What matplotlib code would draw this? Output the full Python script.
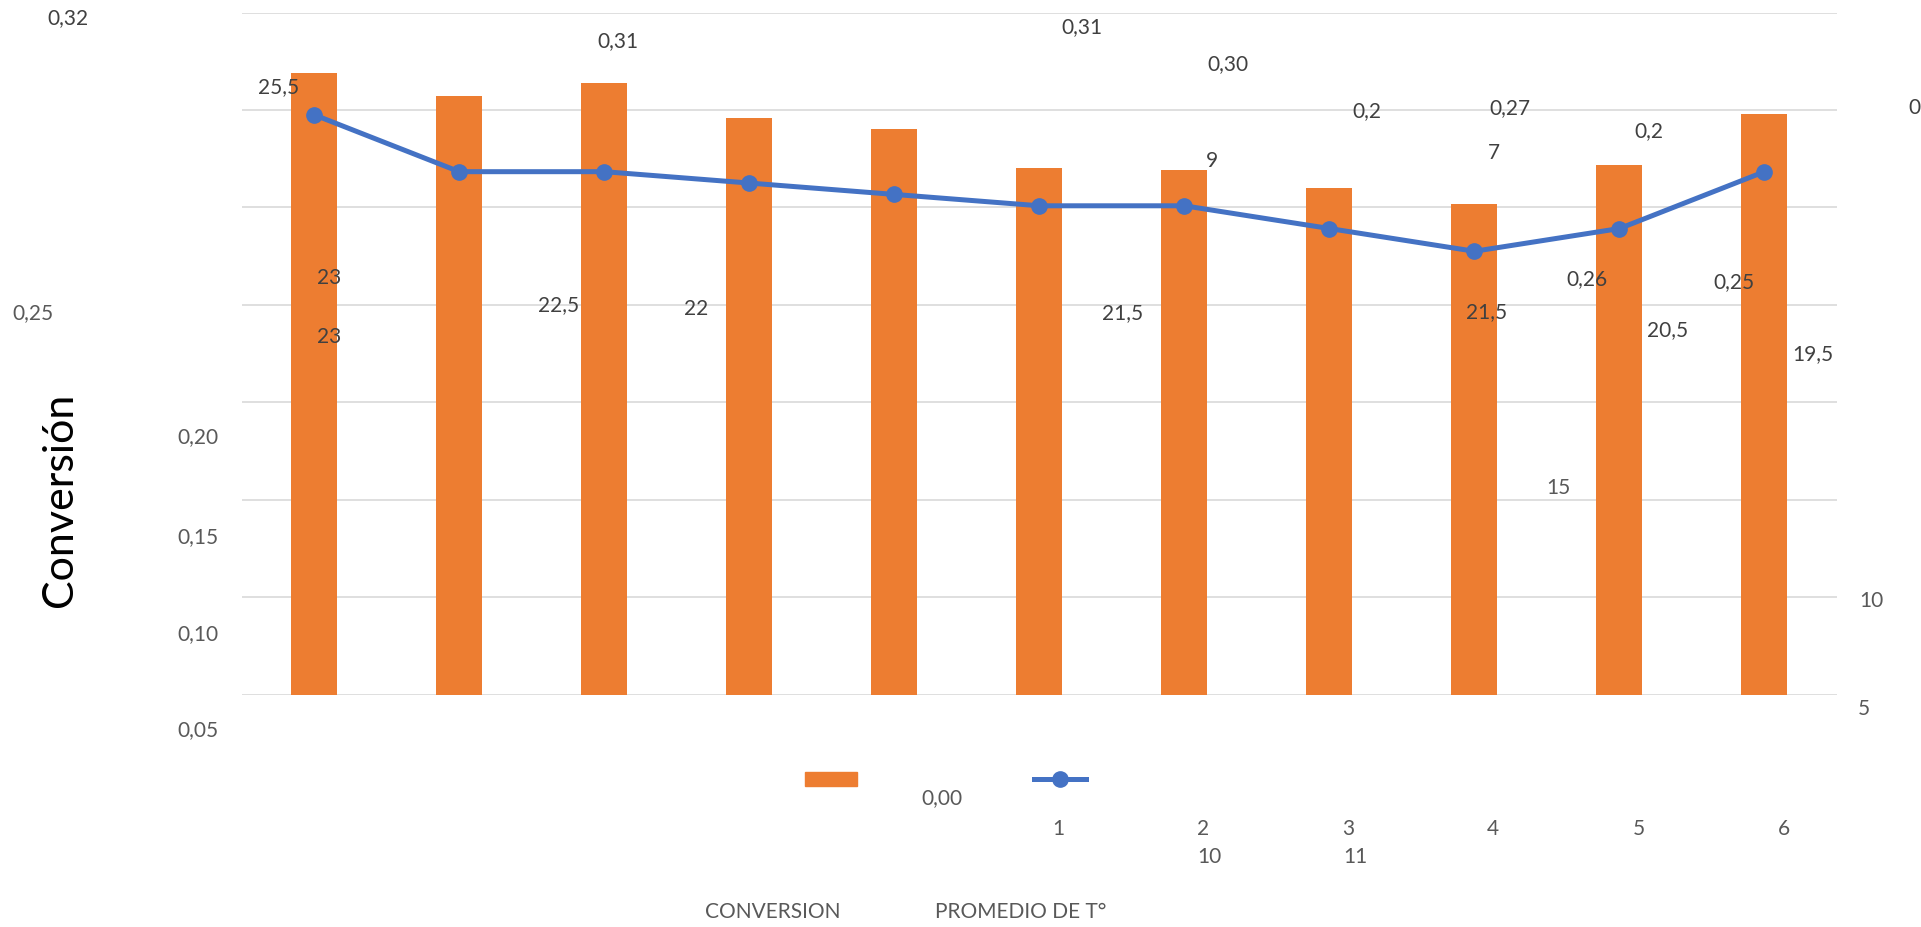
import matplotlib
matplotlib.use("Agg")
import matplotlib.pyplot as plt
from matplotlib.patches import Rectangle
from matplotlib.lines import Line2D

plt.rcParams['font.family'] = ['Lato', 'DejaVu Sans']

W, H = 1921, 927          # canvas size in pixels (dpi 100)

# ── Data ──────────────────────────────────────────────────────────────────────
categories   = list(range(1, 12))
conversion   = [0.319, 0.307, 0.314, 0.296, 0.290, 0.270, 0.269, 0.260, 0.252, 0.272, 0.298]
temperature  = [25.5, 23, 23, 22.5, 22, 21.5, 21.5, 20.5, 19.5, 20.5, 23]
conv_ticks   = [0.00, 0.05, 0.10, 0.15, 0.20, 0.25, 0.30, 0.35]
temp_ticks   = [5, 10, 15]
cat_ticks    = ['1', '2', '3', '4', '5', '6', '10', '11']
series_names = ['CONVERSION', 'PROMEDIO DE T°']
y_title      = 'Conversión'

ORANGE = '#ED7D31'
BLUE   = '#4472C4'
GRID   = '#D9D9D9'
TICK   = '#595959'
LABEL  = '#404040'


def es(v, nd=None):
    """Number with a decimal comma."""
    s = f'{v:.{nd}f}' if nd is not None else f'{v:g}'
    return s.replace('.', ',')


# ── Figure / axes ─────────────────────────────────────────────────────────────
fig = plt.figure(figsize=(W / 100, H / 100), dpi=100)
fig.patch.set_facecolor('white')

ax_l, ax_r, ax_t, ax_b = 241.7, 1837.0, 12.5, 694.7
ax = fig.add_axes([ax_l / W, 1 - ax_b / H, (ax_r - ax_l) / W, (ax_b - ax_t) / H])
xs = list(range(len(categories)))

ax.bar(xs, conversion, width=0.317, color=ORANGE, zorder=2)
ax.set_xlim(-0.5, len(categories) - 0.5)
ax.set_ylim(conv_ticks[0], conv_ticks[-1])
ax.set_yticks(conv_ticks)
ax.yaxis.grid(True, color=GRID, linewidth=1.2, zorder=0)
ax.set_axisbelow(True)
for sp in ax.spines.values():
    sp.set_visible(False)

ax2 = ax.twinx()
ax2.plot(xs, temperature, color=BLUE, linewidth=3.6, marker='o',
         markersize=11, markerfacecolor=BLUE, markeredgecolor=BLUE, zorder=3)
ax2.set_ylim(0, 30)
for sp in ax2.spines.values():
    sp.set_visible(False)

# twinx re-enables the left ticks, so switch them all off afterwards
for a in (ax, ax2):
    a.tick_params(left=False, right=False, bottom=False, top=False,
                  labelleft=False, labelright=False, labelbottom=False)


# ── Text helpers (pixel positions, y measured from the top) ──────────────────
def put(x, y, s, color=LABEL, size=15, ha='center'):
    cap = 0.7165 * size * 100 / 72
    fig.text(x / W, 1 - (y + cap / 2) / H, s, ha=ha, va='baseline',
             color=color, fontsize=size)


# conversion data labels: (index, slice start, slice stop, x, y, ha)
conv_spots = [
    (0, 0, None, 68, 17, 'center'),
    (1, 0, None, 618, 40, 'center'),
    (2, 0, None, 1082, 26, 'center'),
    (3, 0, None, 1228, 63, 'center'),
    (4, 3, None, 1212, 160, 'center'),
    (4, 0, 3, 1367, 110, 'center'),
    (5, 0, None, 1510, 107, 'center'),
    (6, 3, None, 1494, 152, 'center'),
    (6, 0, 3, 1649, 130, 'center'),
    (7, 0, None, 1587, 278, 'center'),
    (8, 0, None, 1734, 281, 'center'),
    (9, 0, 1, 1908, 107, 'left'),
]
for i, a, b, x, y, ha in conv_spots:
    put(x, y, es(conversion[i], 2)[a:b], ha=ha)

# temperature data labels
temp_spots = [(279, 86), (329, 277), (329, 336), (559, 304), (696, 308),
              (1123, 312), (1487, 311), (1668, 329), (1813, 353)]
for i, (x, y) in enumerate(temp_spots):
    put(x, y, es(temperature[i]))

# primary axis values
conv_tick_spots = {0.25: (33, 312), 0.20: (198, 436), 0.15: (198, 536),
                   0.10: (198, 633), 0.05: (198, 729), 0.00: (942, 797)}
for v in conv_ticks:
    if v in conv_tick_spots:
        x, y = conv_tick_spots[v]
        put(x, y, es(v, 2), color=TICK)

# secondary axis values
temp_tick_spots = [(1864, 708), (1871, 600), (1558, 487)]
for v, (x, y) in zip(temp_ticks, temp_tick_spots):
    put(x, y, es(v), color=TICK)

# category labels
cat_spots = [(1058, 828), (1203, 828), (1348, 828), (1493, 828), (1639, 828),
             (1784, 828), (1209, 856), (1355, 856)]
for s, (x, y) in zip(cat_ticks, cat_spots):
    put(x, y, s, color=TICK)

# series names
for s, (x, y) in zip(series_names, [(773, 911), (1021, 911)]):
    put(x, y, s, color=TICK)

# axis title
fig.text(60 / W, 1 - 500 / H, y_title, rotation=90, ha='center', va='center',
         fontsize=31, color='black')

# legend keys
fig.add_artist(Rectangle((805 / W, 1 - 786 / H), 52 / W, 14 / H,
                         transform=fig.transFigure, color=ORANGE))
fig.add_artist(Line2D([1034 / W, 1086 / W], [1 - 779 / H, 1 - 779 / H],
                      transform=fig.transFigure, color=BLUE, linewidth=3.6))
fig.add_artist(Line2D([1060 / W], [1 - 779 / H], transform=fig.transFigure,
                      color=BLUE, marker='o', markersize=11))

fig.savefig('out.png', dpi=100)
